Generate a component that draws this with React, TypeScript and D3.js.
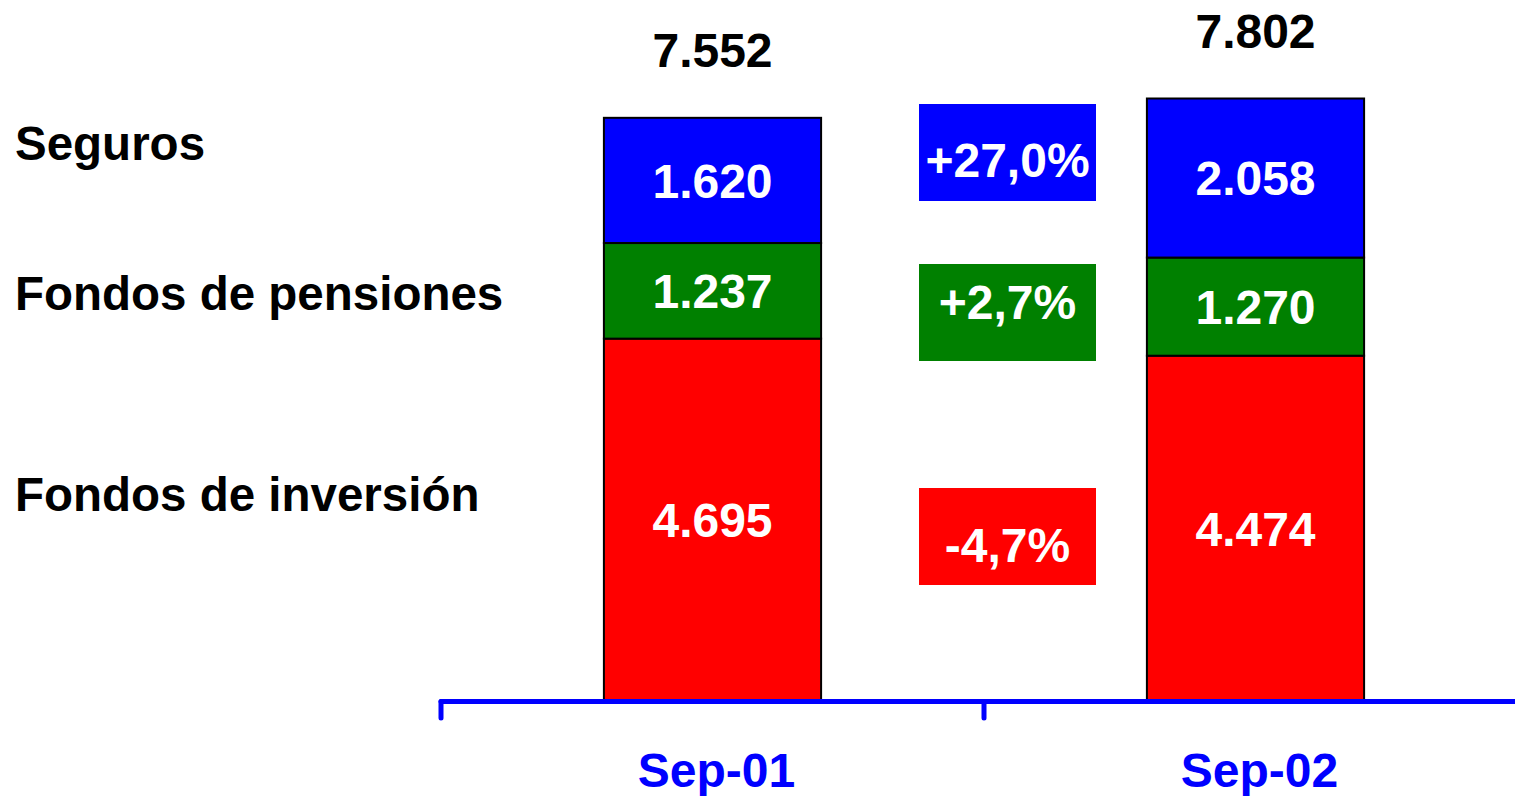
import React from "react";
import * as d3 from "d3";

const periods = ["Sep-01", "Sep-02"];
const seriesNames = ["Fondos de inversión", "Fondos de pensiones", "Seguros"];
const seriesColors = ["#FF0000", "#008000", "#0000FF"];
const inversion = [4695, 4474];
const pensiones = [1237, 1270];
const seguros = [1620, 2058];
const totals = [7552, 7802];
const changeLabels = ["-4,7%", "+2,7%", "+27,0%"];

// layout constants (pixels)
const W = 1515;
const H = 796;
const AXIS_Y = 701.5;
const TOP_Y = 98.5;
const X0 = 441;
const X1 = 1527;
const FONT = "'Liberation Sans', Arial, Helvetica, sans-serif";
const FS = 48;
const LEGEND_FS = 47.5;
const legendBaselines = [511, 310, 160];
const boxLayout = [
  { top: 488, textY: 545 },
  { top: 264, textY: 302 },
  { top: 104, textY: 160 },
];
const BOX_X = 919;
const BOX_W = 177;
const BOX_H = 97;

export default function App() {
  const x = d3.scaleBand<string>().domain(periods).range([X0, X1]).padding(0);
  const y = d3
    .scaleLinear()
    .domain([0, d3.max(totals) as number])
    .range([AXIS_Y, TOP_Y]);
  const bw = x.bandwidth();
  const barW = bw * 0.4;

  const rows = periods.map((p, i) => ({
    period: p,
    inv: inversion[i],
    pen: pensiones[i],
    seg: seguros[i],
  }));
  const stack = d3.stack<any>().keys(["inv", "pen", "seg"])(rows);

  const capHalf = FS * 0.36;
  const fmt = (v: number) => d3.format(",")(v).replace(/,/g, ".");

  return (
    <div style={{ position: "absolute", left: 0, top: 0 }}>
      <svg width={W} height={H} style={{ display: "block" }} fontFamily={FONT}>
        <rect x={0} y={0} width={W} height={H} fill="#fff" />
        {seriesNames.map((n, i) => (
          <text key={n} x={15} y={legendBaselines[i]} fontSize={LEGEND_FS} fontWeight="bold" fill="#000">
            {n}
          </text>
        ))}
        {stack.map((layer, si) =>
          layer.map((d, i) => {
            const bx = (x(periods[i]) as number) + (bw - barW) / 2;
            const yTop = y(d[1]);
            const yBot = y(d[0]);
            return (
              <g key={`${si}-${i}`}>
                <rect
                  x={bx}
                  y={yTop}
                  width={barW}
                  height={yBot - yTop}
                  fill={seriesColors[si]}
                  stroke="#000"
                  strokeWidth={2}
                />
                <text
                  x={bx + barW / 2}
                  y={(yTop + yBot) / 2 + capHalf}
                  textAnchor="middle"
                  fontSize={FS}
                  fontWeight="bold"
                  fill="#fff"
                >
                  {fmt(d[1] - d[0])}
                </text>
              </g>
            );
          })
        )}
        {totals.map((t, i) => (
          <text
            key={i}
            x={(x(periods[i]) as number) + bw / 2}
            y={y(t) - 51}
            textAnchor="middle"
            fontSize={FS}
            fontWeight="bold"
            fill="#000"
          >
            {fmt(t)}
          </text>
        ))}
        {changeLabels.map((c, i) => (
          <g key={c}>
            <rect x={BOX_X} y={boxLayout[i].top} width={BOX_W} height={BOX_H} fill={seriesColors[i]} />
            <text
              x={BOX_X + BOX_W / 2}
              y={boxLayout[i].textY + capHalf}
              textAnchor="middle"
              fontSize={FS}
              fontWeight="bold"
              fill="#fff"
            >
              {c}
            </text>
          </g>
        ))}
        <line x1={X0} x2={X1} y1={AXIS_Y} y2={AXIS_Y} stroke="#0000FF" strokeWidth={5} strokeLinecap="round" />
        {[...periods.map((p) => x(p) as number), X1].map((tx, i) => (
          <line key={i} x1={tx} x2={tx} y1={AXIS_Y} y2={718} stroke="#0000FF" strokeWidth={5} strokeLinecap="round" />
        ))}
        {periods.map((p) => (
          <text
            key={p}
            x={(x(p) as number) + bw / 2 + 4}
            y={787}
            textAnchor="middle"
            fontSize={FS}
            fontWeight="bold"
            fill="#0000FF"
          >
            {p}
          </text>
        ))}
      </svg>
    </div>
  );
}
